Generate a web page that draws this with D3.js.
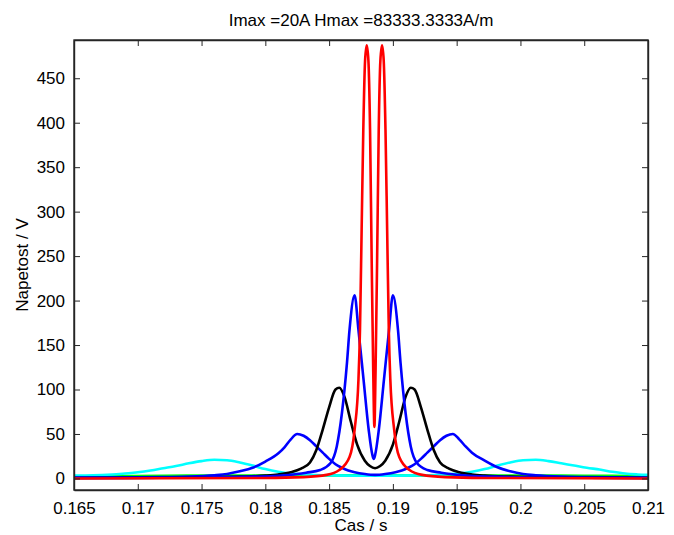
<!DOCTYPE html>
<html>
  <head>
    <meta charset="utf-8">
    <title>Napetost</title>
    <style>
      body { margin: 0; background: #fff; }
      svg text { font-family: "Liberation Sans", Arial, Helvetica, sans-serif; fill: #000; }
      .axis path, .axis line { stroke: #262626; }
    </style>
  </head>
  <body>
    <svg id="chart"></svg>
    <script src="https://cdn.jsdelivr.net/npm/d3@7"></script>
    <script>
    // chart text
    var titleText = "Imax =20A Hmax =83333.3333A/m";
    var xLabel = "Cas / s";
    var yLabel = "Napetost / V";

    var xTicks = [0.165, 0.17, 0.175, 0.18, 0.185, 0.19, 0.195, 0.2, 0.205, 0.21];
    var xTickLabels = ["0.165", "0.17", "0.175", "0.18", "0.185", "0.19", "0.195", "0.2", "0.205", "0.21"];
    var yTicks = [0, 50, 100, 150, 200, 250, 300, 350, 400, 450];

    // [time s, voltage V]
    var greenData = [[0.165, 2], [0.168, 2.6], [0.172, 3], [0.176, 3.2], [0.18, 3.3], [0.1886, 3.4],
      [0.197, 3.3], [0.201, 3.2], [0.205, 3], [0.209, 2.6], [0.21, 2.4]];

    var cyanData = [[0.165, 3.2], [0.1665, 3.5], [0.168, 4.5], [0.169, 5.5], [0.170, 7], [0.171, 9],
      [0.172, 11.5], [0.173, 14], [0.174, 17], [0.175, 19.5], [0.176, 21], [0.177, 20.5], [0.178, 18],
      [0.179, 14.5], [0.180, 10.5], [0.181, 7.5], [0.182, 5.5], [0.183, 4.5], [0.185, 3.5], [0.1886, 3],
      [0.1922, 3.5], [0.1942, 4.5], [0.1952, 5.5], [0.1962, 7.5], [0.1972, 10.5], [0.1982, 14.5],
      [0.1992, 18], [0.2002, 20.5], [0.2012, 21], [0.2022, 19.5], [0.2032, 17], [0.2042, 14.5],
      [0.2052, 12], [0.2062, 10], [0.2072, 7.5], [0.2082, 5.5], [0.2092, 4.5], [0.21, 4]];

    var blueWideData = [[0.165, 1], [0.170, 1.2], [0.172, 1.5], [0.174, 2], [0.176, 3.5], [0.177, 5],
      [0.178, 8], [0.179, 12], [0.180, 19], [0.181, 28], [0.1815, 35], [0.182, 44], [0.1825, 50],
      [0.183, 48], [0.1835, 43], [0.184, 36], [0.1845, 29], [0.185, 22], [0.1855, 16], [0.186, 12],
      [0.1865, 9], [0.187, 7], [0.1878, 5], [0.1886, 4], [0.1894, 5], [0.1902, 7], [0.1907, 9],
      [0.1912, 12], [0.1917, 16], [0.1922, 22], [0.1927, 29], [0.1932, 36], [0.1937, 43], [0.1942, 48],
      [0.1947, 50], [0.1952, 44], [0.1957, 36], [0.1962, 29], [0.1972, 20], [0.1982, 12.5],
      [0.1992, 8], [0.2002, 5], [0.2012, 3.5], [0.2032, 2], [0.2052, 1.5], [0.2072, 1.2], [0.21, 1]];

    var blackData = [[0.165, 0.5], [0.172, 0.8], [0.176, 1.2], [0.178, 2], [0.180, 3.2], [0.181, 4.5],
      [0.182, 7], [0.1828, 11], [0.1835, 18], [0.184, 32], [0.1845, 55], [0.185, 80], [0.1855, 100],
      [0.1858, 102], [0.1862, 92], [0.1867, 64], [0.1872, 38], [0.1878, 20], [0.1882, 14], [0.1886, 11.5],
      [0.1890, 14], [0.1894, 20], [0.1900, 38], [0.1905, 64], [0.1910, 92], [0.1914, 102], [0.1917, 100],
      [0.1922, 80], [0.1927, 55], [0.1932, 32], [0.1937, 18], [0.1944, 11], [0.1952, 7], [0.1962, 4.5],
      [0.1972, 3.2], [0.1992, 2], [0.2012, 1.2], [0.2052, 0.8], [0.21, 0.5]];

    var blueNarrowData = [[0.165, 0.5], [0.175, 1], [0.179, 2], [0.181, 3], [0.1825, 5], [0.1832, 6.5],
      [0.1843, 9.5], [0.1851, 17], [0.1856, 36], [0.186, 73], [0.1864, 130], [0.1866, 167], [0.1870, 206],
      [0.1873, 167], [0.1877, 111], [0.1881, 55], [0.1884, 26], [0.1885, 22], [0.1886, 26], [0.1889, 55],
      [0.1893, 111], [0.1897, 167], [0.1900, 206], [0.1904, 167], [0.1906, 130], [0.1910, 73],
      [0.1914, 36], [0.1919, 17], [0.1927, 9.5], [0.1938, 6.5], [0.1945, 5], [0.196, 3], [0.198, 2],
      [0.202, 1], [0.21, 0.5]];

    var redData = [[0.165, 0], [0.180, 0.5], [0.183, 1.5], [0.1848, 4], [0.1858, 9.5], [0.1866, 24],
      [0.1870, 55], [0.1873, 111], [0.18742, 167], [0.18755, 280], [0.18768, 392], [0.18782, 470],
      [0.18795, 487], [0.18808, 470], [0.18821, 392], [0.18834, 242], [0.18846, 120], [0.18855, 58],
      [0.18864, 120], [0.18876, 242], [0.18889, 392], [0.18902, 470], [0.18915, 487], [0.18928, 470],
      [0.18942, 392], [0.18955, 280], [0.18968, 167], [0.1898, 111], [0.1901, 55], [0.1905, 24],
      [0.1913, 9.5], [0.1923, 4], [0.1941, 1.5], [0.197, 0.5], [0.21, 0]];

    var series = [
      { data: greenData, color: "#00ff00" },
      { data: cyanData, color: "#00ffff" },
      { data: blueWideData, color: "#0000ff" },
      { data: blackData, color: "#000000" },
      { data: blueNarrowData, color: "#0000ff" },
      { data: redData, color: "#ff0000" }
    ];

    var width = 674, height = 535;
    var margin = { top: 40, right: 26, bottom: 45, left: 74 };
    var w = width - margin.left - margin.right;
    var h = height - margin.top - margin.bottom;

    var svg = d3.select("#chart").attr("width", width).attr("height", height);
    var g = svg.append("g").attr("transform", "translate(" + margin.left + "," + margin.top + ")");

    var x = d3.scaleLinear().domain([0.165, 0.21]).range([0, w]);
    var y = d3.scaleLinear().domain([-13, 493]).range([h, 0]);

    g.append("clipPath").attr("id", "clip")
      .append("rect").attr("width", w).attr("height", h);

    // lines
    var line = d3.line()
      .x(function(d) { return x(d[0]); })
      .y(function(d) { return y(d[1]); })
      .curve(d3.curveMonotoneX);

    g.append("g").attr("clip-path", "url(#clip)")
      .selectAll("path")
      .data(series)
      .enter().append("path")
      .attr("d", function(d) { return line(d.data); })
      .attr("fill", "none")
      .attr("stroke", function(d) { return d.color; })
      .attr("stroke-width", 2.6)
      .attr("stroke-linejoin", "round");

    // axes (ticks point inward, mirrored on top / right)
    var fontSize = "17px";
    var xAxis = g.append("g").attr("class", "axis").attr("transform", "translate(0," + h + ")")
      .call(d3.axisBottom(x).tickValues(xTicks)
        .tickFormat(function(d, i) { return xTickLabels[i]; })
        .tickSizeInner(-6).tickSizeOuter(0).tickPadding(12));
    xAxis.selectAll("text").attr("font-size", fontSize);

    g.append("g").attr("class", "axis")
      .call(d3.axisTop(x).tickValues(xTicks).tickFormat("").tickSizeInner(-6).tickSizeOuter(0));

    var yAxis = g.append("g").attr("class", "axis")
      .call(d3.axisLeft(y).tickValues(yTicks).tickFormat(d3.format("d"))
        .tickSizeInner(-6).tickSizeOuter(0).tickPadding(9));
    yAxis.selectAll("text").attr("font-size", fontSize);

    g.append("g").attr("class", "axis").attr("transform", "translate(" + w + ",0)")
      .call(d3.axisRight(y).tickValues(yTicks).tickFormat("").tickSizeInner(-6).tickSizeOuter(0));

    g.selectAll(".axis path").attr("stroke-width", 1.4);

    // box
    g.append("rect").attr("width", w).attr("height", h)
      .attr("fill", "none").attr("stroke", "#262626").attr("stroke-width", 1.4);

    // labels
    svg.append("text")
      .attr("x", margin.left + w / 2).attr("y", 26)
      .attr("text-anchor", "middle").attr("font-size", fontSize)
      .text(titleText);

    svg.append("text")
      .attr("x", margin.left + w / 2).attr("y", 531)
      .attr("text-anchor", "middle").attr("font-size", fontSize)
      .text(xLabel);

    svg.append("text")
      .attr("transform", "translate(28," + (margin.top + h / 2) + ") rotate(-90)")
      .attr("text-anchor", "middle").attr("font-size", fontSize)
      .text(yLabel);
    </script>
  </body>
</html>
